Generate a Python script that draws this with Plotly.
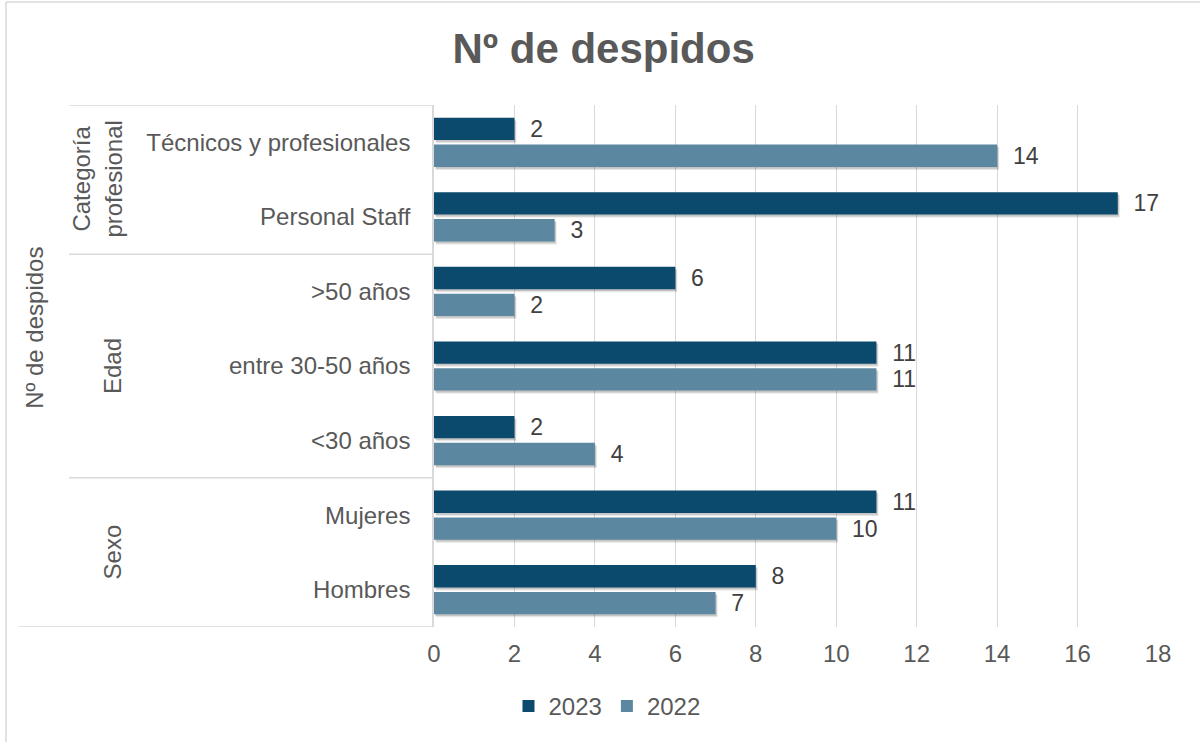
import plotly.graph_objects as go

categories = ["Hombres", "Mujeres", "<30 años", "entre 30-50 años", ">50 años",
              "Personal Staff", "Técnicos y profesionales"]
values_2023 = [8, 11, 2, 11, 6, 17, 2]
values_2022 = [7, 10, 4, 11, 2, 3, 14]
groups = [("Sexo", 0.5), ("Edad", 3), ("Categoría<br>profesional", 5.5)]
x_ticks = list(range(0, 19, 2))

C2023 = "#0b4a6d"
C2022 = "#5c87a0"
TXT = "#595959"
FONT = "Liberation Sans, Arial, sans-serif"

W = 0.30
OFF_23 = 0.03
OFF_22 = -0.33
SH_DY = 0.04
SH_BASE = 0.05

fig = go.Figure()

# soft shadows under the bars
for vals, off in [(values_2023, OFF_23), (values_2022, OFF_22)]:
    for k, a in [(1.0, 0.10), (0.6, 0.14)]:
        fig.add_trace(go.Bar(
            y=categories, x=vals, orientation="h", base=SH_BASE * k,
            width=W, offset=off - SH_DY * k,
            marker=dict(color=f"rgba(0,0,0,{a})", line=dict(width=0)),
            showlegend=False, hoverinfo="skip"))

for name, vals, col, off in [("2023", values_2023, C2023, OFF_23),
                             ("2022", values_2022, C2022, OFF_22)]:
    fig.add_trace(go.Bar(
        y=categories, x=vals, orientation="h", name=name,
        width=W, offset=off,
        marker=dict(color=col, line=dict(width=0)),
        text=vals, texttemplate="\u00a0\u00a0%{x}", textposition="outside",
        constraintext="none",
        textfont=dict(size=23, color="#404040", family=FONT),
        cliponaxis=False))

fig.update_layout(
    width=1200, height=742,
    barmode="overlay",
    paper_bgcolor="white", plot_bgcolor="white",
    margin=dict(l=434, r=42, t=105, b=114.5),
    font=dict(family=FONT, size=24, color=TXT),
    title=dict(text="<b>Nº de despidos</b>", x=0.503, xanchor="center",
               y=0.935, yanchor="middle",
               font=dict(size=42, color=TXT, family=FONT)),
    xaxis=dict(range=[0, 18], tickvals=x_ticks, showgrid=True,
               gridcolor="#d9d9d9", gridwidth=1.3, zeroline=False,
               showline=False, ticklabelstandoff=10,
               tickfont=dict(size=24, color=TXT), fixedrange=True),
    yaxis=dict(categoryorder="array", categoryarray=categories,
               range=[-0.5, 6.5], showline=True, linecolor="#d9d9d9",
               linewidth=1.5, showgrid=False, zeroline=False,
               ticks="", ticklabelstandoff=17,
               tickfont=dict(size=24, color=TXT)),
    legend=dict(orientation="h", x=(607 - 434) / 724, xanchor="center",
                y=-0.152, yanchor="middle", font=dict(size=24, color=TXT),
                itemwidth=30, bgcolor="rgba(0,0,0,0)"),
    showlegend=True,
)

def px_x(px):
    return (px - 434) / 724.0

def px_y(py):
    return (627.5 - py) / 522.5

# category box separators
for yb, xl in [(6.5, 69), (4.5, 69), (1.5, 69), (-0.5, 19)]:
    fig.add_shape(type="line", xref="paper", yref="y",
                  x0=px_x(xl), x1=px_x(433), y0=yb, y1=yb,
                  line=dict(color="#d9d9d9", width=1.5))

# outer border (left & top)
fig.add_shape(type="line", xref="paper", yref="paper",
              x0=px_x(6), x1=px_x(6), y0=px_y(2), y1=px_y(745),
              line=dict(color="#d9d9d9", width=1.5))
fig.add_shape(type="line", xref="paper", yref="paper",
              x0=px_x(6), x1=px_x(1203), y0=px_y(2), y1=px_y(2),
              line=dict(color="#d9d9d9", width=1.5))

# group labels
for label, ypos in groups:
    xp = 97 if "<br>" in label else 112
    fig.add_annotation(text=label, xref="paper", yref="y", x=px_x(xp), y=ypos,
                       textangle=-90, showarrow=False, xanchor="center",
                       yanchor="middle", font=dict(size=24, color=TXT))

# axis title
fig.add_annotation(text="Nº de despidos", xref="paper", yref="paper",
                   x=px_x(35), y=px_y(328), textangle=-90, showarrow=False,
                   xanchor="center", yanchor="middle",
                   font=dict(size=24, color=TXT))

fig.write_html("out.html", post_script="document.body.style.margin='0';",
               config={"displayModeBar": False})
